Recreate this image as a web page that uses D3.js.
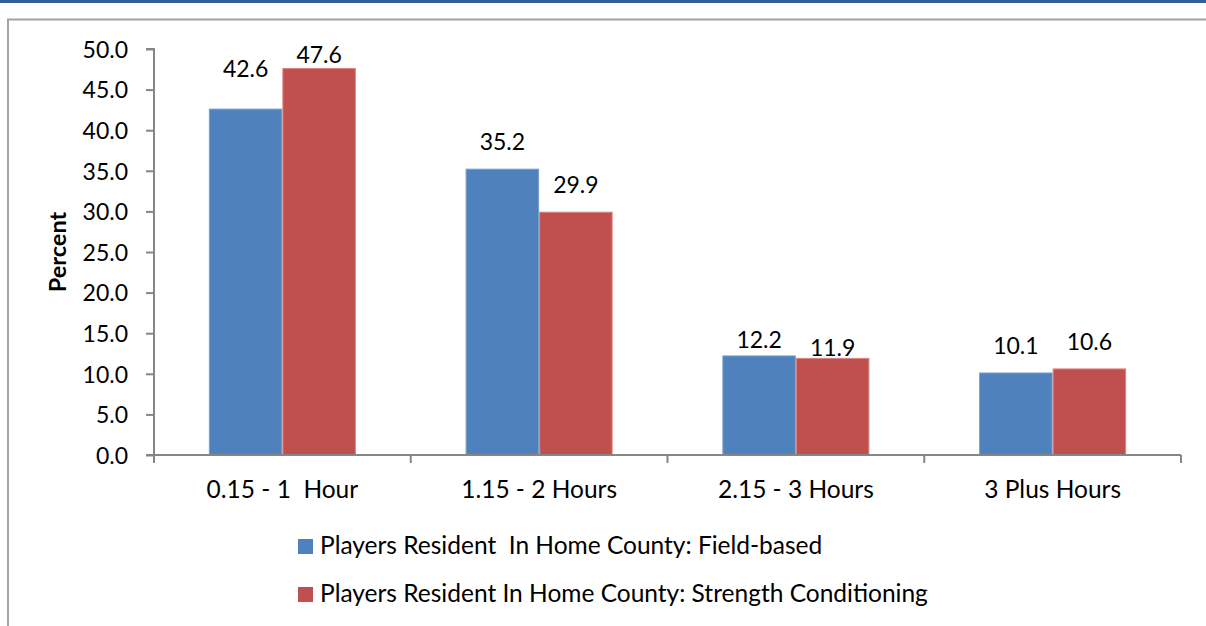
<!DOCTYPE html>
<html>
<head>
<meta charset="utf-8">
<script src="https://cdn.jsdelivr.net/npm/d3@7"></script>
<style>
  html, body { margin: 0; padding: 0; background: #ffffff; }
  svg { display: block; }
  text { font-family: Lato, "Open Sans", "Noto Sans", sans-serif; fill: #000; white-space: pre; }
</style>
</head>
<body>
<script>
// ---- data ----
const categories = ["0.15 - 1  Hour", "1.15 - 2 Hours", "2.15 - 3 Hours", "3 Plus Hours"];
const seriesNames = [
  "Players Resident  In Home County: Field-based",
  "Players Resident In Home County: Strength Conditioning"
];
const fieldBased = [42.6, 35.2, 12.2, 10.1];
const strengthConditioning = [47.6, 29.9, 11.9, 10.6];
const yTicks = [0, 5, 10, 15, 20, 25, 30, 35, 40, 45, 50];
const yLabel = "Percent";

// ---- styles / layout ----
const W = 1206, H = 626;
const colors = ["#4f81bd", "#c0504d"];
const strokes = ["#7b9fcf", "#d98683"];
// per-label vertical lift (px) above bar top, as placed in the original
const labelLift = [[32, 19, 8, 19], [5.5, 19, 2.5, 19]];
const numSize = 23;
const textSize = 24.5;

const svg = d3.select("body").append("svg").attr("width", W).attr("height", H);

// top blue band
svg.append("rect").attr("x", 0).attr("y", 0).attr("width", W).attr("height", 3).attr("fill", "#346195");
// outer chart border
svg.append("path")
  .attr("d", `M8,${H + 5} L8,19.5 L${W + 5},19.5`)
  .attr("fill", "none").attr("stroke", "#a3a3a3").attr("stroke-width", 2);

const plotL = 154, plotR = 1181, plotT = 49, plotB = 455;

const x0 = d3.scaleBand().domain(categories).range([plotL, plotR]).padding(0);
const x1 = d3.scaleBand().domain([0, 1]).range([0, x0.bandwidth()]).paddingInner(0).paddingOuter(0.746);
const y = d3.scaleLinear().domain([0, 50]).range([plotB, plotT]);

const series = [fieldBased, strengthConditioning];

// bars
const g = svg.append("g");
series.forEach((vals, si) => {
  g.selectAll(".bar" + si).data(vals).enter().append("rect")
    .attr("x", (d, i) => x0(categories[i]) + x1(si) + 0.5)
    .attr("y", d => y(d))
    .attr("width", x1.bandwidth() - 1)
    .attr("height", d => plotB - y(d))
    .attr("fill", colors[si])
    .attr("stroke", strokes[si]).attr("stroke-width", 1);
});

// data labels
series.forEach((vals, si) => {
  g.selectAll(".lab" + si).data(vals).enter().append("text")
    .attr("x", (d, i) => x0(categories[i]) + x1(si) + x1.bandwidth() / 2)
    .attr("y", (d, i) => y(d) - labelLift[si][i])
    .attr("text-anchor", "middle")
    .attr("font-size", numSize)
    .text(d => d.toFixed(1));
});

const axisColor = "#868686";

// y axis
const yAxis = d3.axisLeft(y).tickValues(yTicks).tickFormat(d3.format(".1f")).tickSize(8).tickPadding(18);
const ya = svg.append("g").attr("transform", `translate(${plotL},0)`).call(yAxis);
ya.select(".domain").attr("stroke", axisColor).attr("stroke-width", 2).attr("d", `M-8,${plotT}H0V${plotB}`);
ya.selectAll(".tick line").attr("stroke", axisColor).attr("stroke-width", 2);
ya.selectAll(".tick text").attr("font-size", numSize).attr("font-family", "Lato, 'Open Sans', sans-serif").attr("fill", "#000").attr("dy", "0.36em");

// x axis
const xAxis = d3.axisBottom(x0).tickSize(0).tickPadding(26);
const xa = svg.append("g").attr("transform", `translate(0,${plotB})`).call(xAxis);
xa.select(".domain").attr("stroke", axisColor).attr("stroke-width", 2).attr("d", `M${plotL - 8},0H${plotR}`);
xa.selectAll(".tick text").attr("font-size", textSize).attr("font-family", "Lato, 'Open Sans', sans-serif").attr("fill", "#000")
  .style("white-space", "pre");
// category boundary ticks
const bounds = categories.map(c => x0(c)).concat([plotR]);
xa.selectAll(".bound").data(bounds).enter().append("line")
  .attr("x1", d => d).attr("x2", d => d).attr("y1", 0).attr("y2", 8)
  .attr("stroke", axisColor).attr("stroke-width", 2);

// y label
svg.append("text")
  .attr("transform", `translate(66,${(plotT + plotB) / 2}) rotate(-90)`)
  .attr("text-anchor", "middle")
  .attr("font-size", 23.5).attr("font-weight", "bold")
  .text(yLabel);

// legend
const legBase = [554, 602];
seriesNames.forEach((name, si) => {
  svg.append("rect").attr("x", 298).attr("y", legBase[si] - 15).attr("width", 15).attr("height", 15).attr("fill", colors[si]);
  svg.append("text").attr("x", 320).attr("y", legBase[si])
    .attr("font-size", textSize).text(name);
});
</script>
</body>
</html>
